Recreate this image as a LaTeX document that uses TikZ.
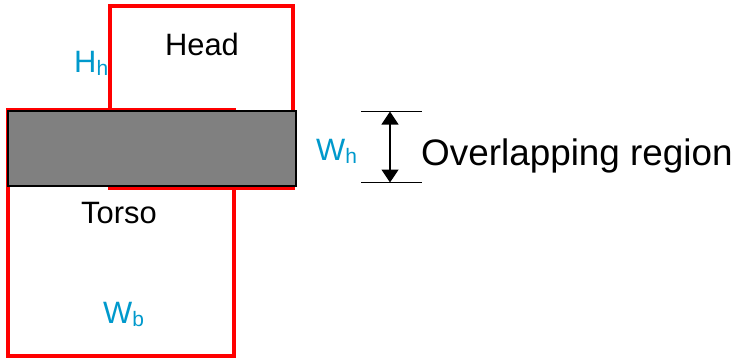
\documentclass[tikz,border=0pt]{standalone}
\usepackage{fontspec}
\setmainfont{Liberation Sans}
\usetikzlibrary{arrows.meta}
\definecolor{dimblue}{RGB}{0,153,204}
\newcommand{\lowsub}[1]{\raisebox{-0.1em}{\fontsize{21}{21}\selectfont #1}}
\begin{document}
\begin{tikzpicture}[x=1bp,y=-1bp,
  part/.style={draw=red,line width=3.2bp},
  txt/.style={inner sep=0pt,font=\fontsize{31}{33}\selectfont},
  dimlab/.style={txt,text=dimblue}]
  \useasboundingbox (0,0) rectangle (737,362);
  \draw[part] (8,110) rectangle (234,356);
  \draw[part] (110,6) rectangle (293,188);
  \draw[fill=gray,line width=1.5bp] (8,111) rectangle (296,186);
  \node[txt,anchor=base] (head) at (202,55) {Head};
  \node[txt,anchor=base] (torso) at (119,223) {Torso};
  \node[dimlab,anchor=base west] (hh) at (74,72) {H\lowsub{h}};
  \node[dimlab,anchor=base west] (wb) at (103,323) {W\lowsub{b}};
  \node[dimlab,anchor=base west] (wh) at (316,160) {W\lowsub{h}};
  \coordinate (top) at (390,111.5);
  \coordinate (bot) at (390,182.5);
  \draw[line width=1.2bp] (361,111.5) -- (422,111.5);
  \draw[line width=1.2bp] (361,182.5) -- (422,182.5);
  \draw[{Triangle[length=13bp,width=17bp]}-{Triangle[length=13bp,width=17bp]},line width=1.3bp] (top) -- (bot);
  \node[inner sep=0pt,anchor=base west,font=\fontsize{37}{40}\selectfont] (overlap) at (421,165) {Overlapping region};
\end{tikzpicture}
\end{document}
